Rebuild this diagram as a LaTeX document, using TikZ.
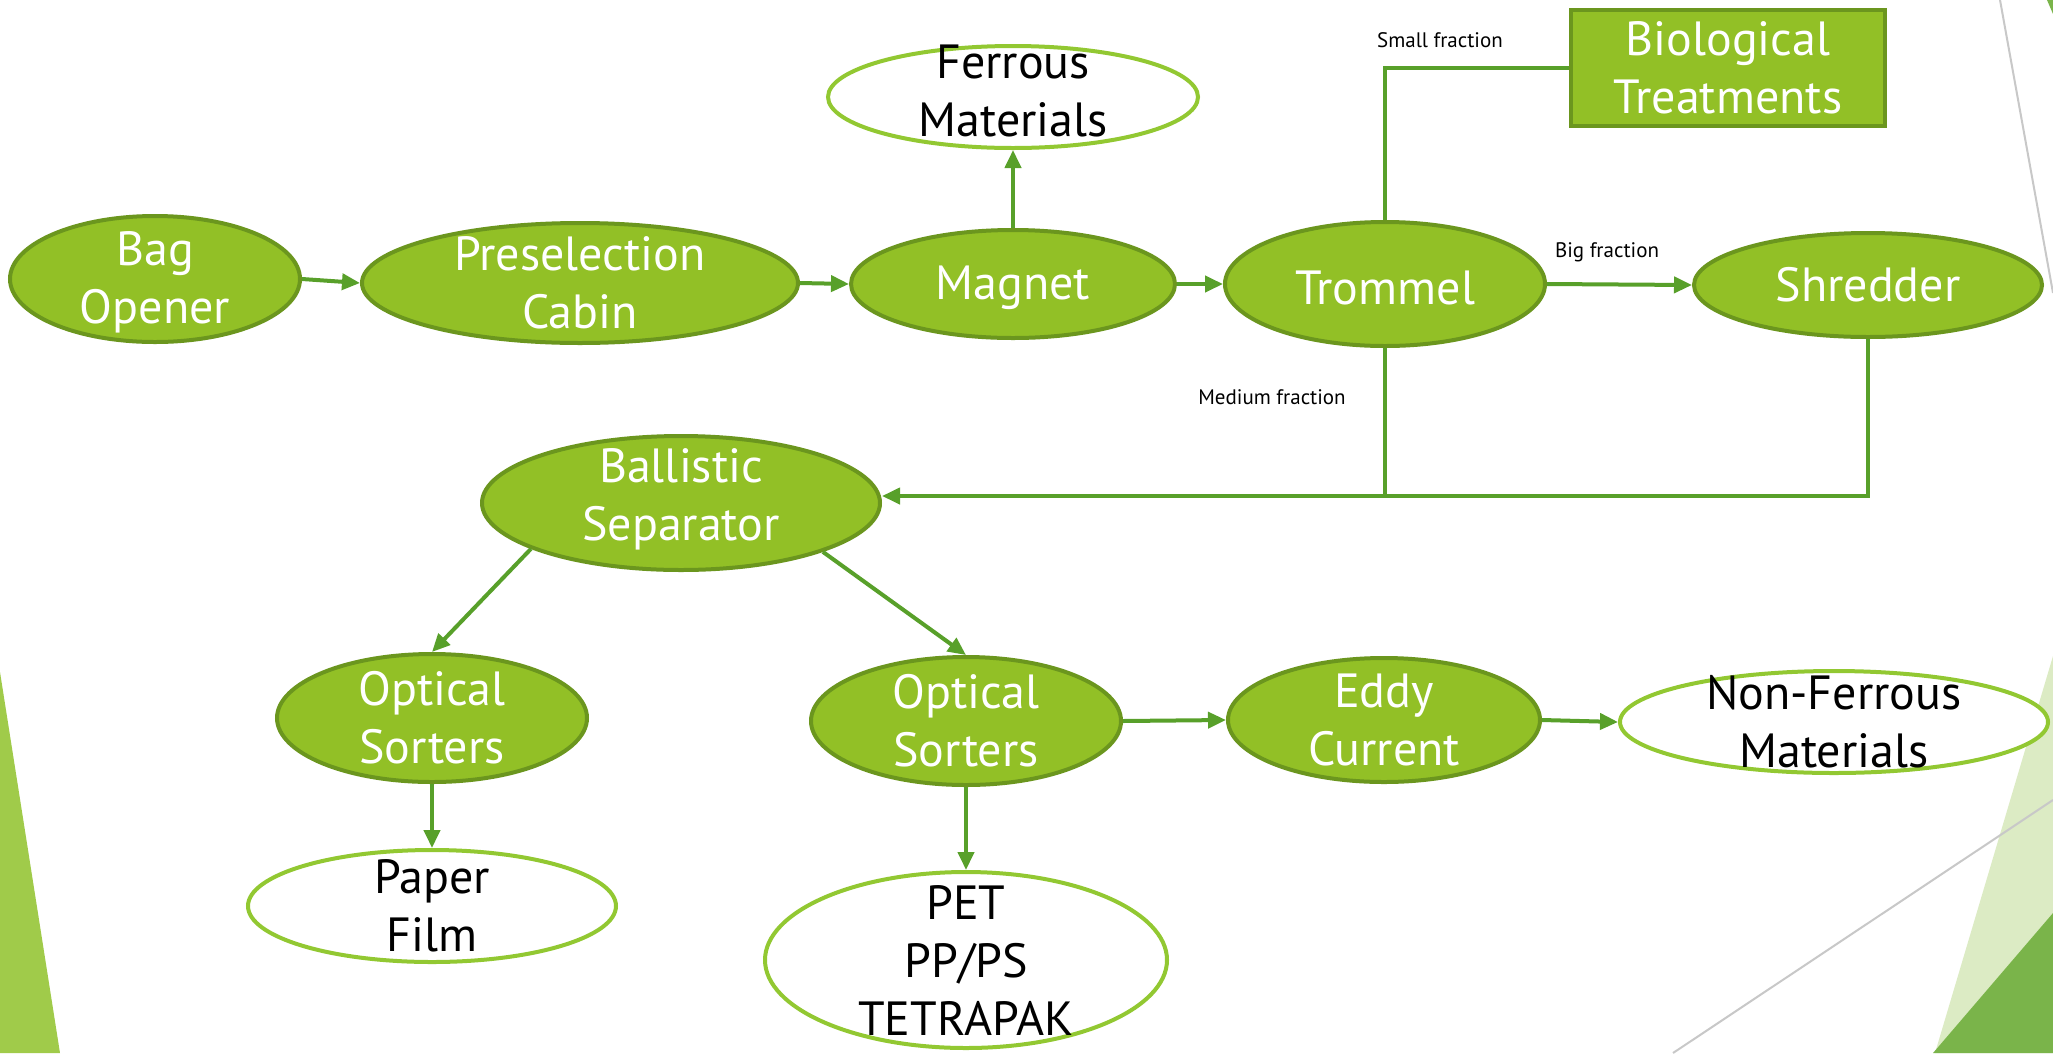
\documentclass[tikz,border=0pt]{standalone}
\usepackage{fontspec}
\setmainfont{PT Sans}
\usetikzlibrary{shapes.geometric,arrows.meta,calc}
\definecolor{gfill}{RGB}{146,192,38}
\definecolor{gdraw}{RGB}{107,150,30}
\definecolor{conncol}{RGB}{88,160,42}
\definecolor{wdraw}{RGB}{146,200,50}
\definecolor{trileft}{RGB}{160,203,74}
\definecolor{trilight}{RGB}{220,235,196}
\definecolor{tridark}{RGB}{122,180,74}
\definecolor{decogray}{RGB}{200,200,200}
\newcommand{\bigf}{\fontsize{48}{58}\selectfont}
\newcommand{\smallf}{\fontsize{21}{25}\selectfont}
\tikzset{
  gell/.style={ellipse, fill=gfill, draw=gdraw, line width=4pt, inner sep=0pt},
  well/.style={ellipse, fill=white, draw=wdraw, line width=4pt, inner sep=0pt},
  gbox/.style={rectangle, fill=gfill, draw=gdraw, line width=4pt, inner sep=0pt},
  wtxt/.style={align=center, font=\bigf, text=white, inner sep=0pt},
  btxt/.style={align=center, font=\bigf, text=black, inner sep=0pt},
  lbl/.style={font=\smallf, text=black, inner sep=0pt},
  conn/.style={draw=conncol, line width=4pt, -{Triangle[length=18pt,width=16pt]}},
  plainconn/.style={draw=conncol, line width=4pt},
}
\begin{document}
\begin{tikzpicture}[x=1pt,y=-1pt]
\useasboundingbox (0,0) rectangle (2053,1053);
\fill[white] (0,0) rectangle (2053,1053);
% decorations
\fill[trileft] (0,672) -- (60,1053) -- (0,1053) -- cycle;
\fill[trilight] (2053,656) -- (2053,1053) -- (1935,1053) -- cycle;
\fill[tridark] (2053,913) -- (2053,1053) -- (1933,1053) -- cycle;
\draw[decogray, line width=2pt] (2000,0) -- (2053,293);
\draw[decogray, line width=2pt] (1673,1053) -- (2053,800);
\fill[tridark] (2047,0) -- (2053,0) -- (2053,14) -- cycle;

% nodes
\node[gell, minimum width=290, minimum height=126] (bag) at (155,279) {};
\node[wtxt] (bagt) at ($(bag)+(0,3)$) {Bag\\Opener};
\node[gell, minimum width=436, minimum height=120] (pre) at (580,283) {};
\node[wtxt] (pret) at (pre) {Preselection\\Cabin};
\node[gell, minimum width=324, minimum height=108] (mag) at (1013,284) {};
\node[wtxt] (magt) at ($(mag)+(0,4)$) {Magnet};
\node[gell, minimum width=320, minimum height=124] (tro) at (1385,284) {};
\node[wtxt] (trot) at ($(tro)+(0,4)$) {Trommel};
\node[gell, minimum width=348, minimum height=104] (shr) at (1868,285) {};
\node[wtxt] (shrt) at (shr) {Shredder};
\node[well, minimum width=370, minimum height=102] (fer) at (1013,97) {};
\node[btxt] (fert) at ($(fer)+(0,-6)$) {Ferrous\\Materials};
\node[gbox, minimum width=314, minimum height=116] (bio) at (1728,68) {};
\node[wtxt] (biot) at (bio) {Biological\\Treatments};
\node[gell, minimum width=398, minimum height=134] (bal) at (681,503) {};
\node[wtxt] (balt) at ($(bal)+(0,-4)$) {Ballistic\\Separator};
\node[gell, minimum width=310, minimum height=128] (optl) at (432,718) {};
\node[wtxt] (optlt) at (optl) {Optical\\Sorters};
\node[gell, minimum width=310, minimum height=128] (optr) at (966,721) {};
\node[wtxt] (optrt) at (optr) {Optical\\Sorters};
\node[gell, minimum width=312, minimum height=124] (edd) at (1384,720) {};
\node[wtxt] (eddt) at (edd) {Eddy\\Current};
\node[well, minimum width=428, minimum height=102] (nfe) at (1834,722) {};
\node[btxt] (nfet) at (nfe) {Non-Ferrous\\Materials};
\node[well, minimum width=368, minimum height=112] (pap) at (432,906) {};
\node[btxt] (papt) at (pap) {Paper\\Film};
\node[well, minimum width=402, minimum height=176] (pet) at (966,960) {};
\node[btxt] (pett) at (pet) {PET\\PP/PS\\TETRAPAK};

% labels
\node[lbl] (lsmall) at (1440,40) {Small fraction};
\node[lbl] (lbig) at (1607,252) {Big fraction};
\node[lbl] (lmed) at (1272,397) {Medium fraction};

% connectors
\draw[conn] (bag.east) -- (pre.west);
\draw[conn] (pre.east) -- (mag.west);
\draw[conn] (mag.east) -- (tro.west);
\draw[conn] (tro.east) -- (shr.west);
\draw[conn] (mag.north) -- (fer.south);
\draw[plainconn] (tro.north) |- (bio.west);
\coordinate (join) at (1359,496);
\draw[conn] (tro.south) -- (tro.south |- join) -- (bal.east |- join);
\draw[plainconn] (shr.south) |- (join);
\draw[conn] (bal.197) -- (optl.north);
\draw[conn] (bal.341) -- (optr.north);
\draw[conn] (optl.south) -- (pap.north);
\draw[conn] (optr.south) -- (pet.north);
\draw[conn] (optr.east) -- (edd.west);
\draw[conn] (edd.east) -- (nfe.west);
\end{tikzpicture}
\end{document}
